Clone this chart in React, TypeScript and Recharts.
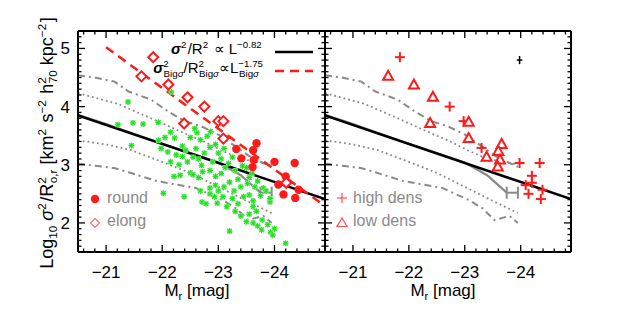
import React from 'react';
import { ComposedChart, Scatter, Line, XAxis, YAxis, ErrorBar } from 'recharts';

const FONT = '"Liberation Sans", Arial, sans-serif';
const GRAY = '#8a8a8a';
const RED = '#ff1a1a';

const X_DOMAIN: [number, number] = [-24.9, -20.5];
const Y_DOMAIN: [number, number] = [1.5, 5.3];
const X_MAJOR = [-21, -22, -23, -24];
const Y_MAJOR = [2, 3, 4, 5];

// minor ticks every 0.2 mag / 0.1 dex
const X_TICKS: number[] = [];
for (let i = 103; i <= 124; i++) X_TICKS.push(-i / 5);
const Y_TICKS: number[] = [];
for (let i = 15; i <= 53; i++) Y_TICKS.push(i / 10);

// bulk sample (green stars)
const bulk: [number, number][] = [
  [-21.21, 3.69], [-21.39, 4.08], [-21.48, 3.72], [-21.66, 3.7], [-21.93, 3.73], [-22.16, 4.25], [-21.45, 3.33],
  [-21.93, 3.42], [-22.05, 3.47], [-22.15, 3.56], [-22.22, 3.46], [-22.36, 3.32], [-22.5, 3.47], [-22.68, 3.43],
  [-22.8, 3.49], [-22.86, 3.57], [-22.62, 3.55], [-22.58, 3.62],
  [-21.98, 3.28], [-22.1, 3.22], [-22.25, 3.17], [-22.36, 3.14], [-22.45, 3.05], [-22.55, 3.13], [-22.65, 3.1],
  [-22.7, 2.99], [-22.75, 3.2], [-22.9, 3.05], [-23.0, 3.2], [-23.05, 3.1], [-23.12, 2.95], [-23.18, 3.02],
  [-22.42, 3.25], [-22.3, 3.0], [-22.15, 3.05], [-22.6, 3.28], [-22.85, 3.3], [-22.95, 3.35], [-23.1, 3.28],
  [-23.25, 3.13], [-23.43, 2.98],
  [-22.21, 2.8], [-22.32, 2.82], [-22.5, 2.86], [-22.55, 2.83], [-22.65, 2.78], [-22.72, 2.88], [-22.85, 2.9],
  [-22.95, 2.8], [-23.05, 2.85], [-23.3, 2.9], [-23.35, 2.75], [-23.2, 2.7], [-23.1, 2.62], [-22.95, 2.65],
  [-23.0, 2.55], [-22.85, 2.6], [-23.28, 2.55], [-23.4, 2.62], [-23.5, 2.95], [-23.55, 2.78], [-23.6, 2.85],
  [-23.7, 2.72], [-23.8, 2.6], [-23.75, 2.47], [-23.85, 2.55], [-23.65, 2.62], [-23.52, 2.68],
  [-22.02, 2.51], [-22.39, 2.45], [-22.68, 2.55], [-22.71, 2.36], [-22.78, 2.33], [-22.98, 2.34], [-22.93, 2.45],
  [-23.08, 2.45], [-23.15, 2.28], [-23.25, 2.42], [-23.35, 2.33], [-23.45, 2.45], [-23.55, 2.48], [-23.62, 2.38],
  [-23.62, 2.28], [-23.68, 2.2], [-23.55, 2.15], [-23.5, 2.02], [-23.62, 2.0], [-23.7, 1.95], [-23.77, 1.88],
  [-23.88, 1.97], [-23.93, 1.84], [-24.0, 1.9], [-23.97, 1.79], [-23.2, 1.86], [-24.2, 1.65], [-23.92, 2.36],
  [-23.92, 2.42], [-23.4, 2.12], [-23.78, 2.05], [-23.3, 2.2], [-22.85, 2.5],
];

// BCGs, left panel
const round: [number, number][] = [
  [-23.32, 3.27], [-23.41, 3.11], [-23.62, 3.25], [-23.68, 3.37], [-23.63, 3.08], [-23.61, 2.96], [-24.0, 3.05],
  [-24.36, 3.03], [-24.2, 2.8], [-24.07, 2.66], [-24.16, 2.49], [-24.37, 2.43], [-24.43, 2.57],
];
const elong: [number, number][] = [
  [-21.84, 4.85], [-21.63, 4.52], [-22.11, 4.38], [-22.45, 4.16], [-22.75, 4.0], [-22.39, 3.71], [-23.0, 3.75],
  [-23.09, 3.75], [-23.09, 3.45], [-24.21, 2.69],
];

// BCGs, right panel
const highDens: [number, number][] = [
  [-21.84, 4.85], [-22.73, 4.0], [-22.98, 3.75], [-23.3, 3.29], [-23.98, 3.03], [-24.34, 3.03], [-24.2, 2.81],
  [-24.09, 2.65], [-24.2, 2.69], [-24.14, 2.5], [-24.39, 2.57], [-24.36, 2.41],
];
const lowDens: [number, number][] = [
  [-21.63, 4.52], [-22.09, 4.37], [-22.43, 4.16], [-22.38, 3.71], [-23.07, 3.73], [-23.07, 3.45], [-23.66, 3.35],
  [-23.6, 3.23], [-23.39, 3.13], [-23.63, 3.08], [-23.59, 2.96],
];

// bulk distribution percentiles
const upperDashDot: [number, number][] = [
  [-20.5, 4.54], [-20.8, 4.5], [-21.15, 4.43], [-21.4, 4.26], [-21.8, 4.12], [-22.1, 3.92], [-22.4, 3.75],
  [-22.7, 3.66], [-23.0, 3.52], [-23.3, 3.32], [-23.55, 3.15], [-23.8, 3.03], [-23.95, 2.96],
];
const upperDotted: [number, number][] = [
  [-20.5, 4.23], [-21.2, 4.05], [-21.8, 3.8], [-22.4, 3.54], [-22.7, 3.42], [-23.05, 3.25], [-23.4, 3.1],
  [-23.7, 3.05], [-23.95, 3.0],
];
const median: [number, number][] = [
  [-20.5, 3.86], [-21.0, 3.7], [-21.5, 3.53], [-22.0, 3.36], [-22.5, 3.2], [-23.0, 3.04], [-23.4, 2.82],
  [-23.75, 2.52],
];
const lowerDotted: [number, number][] = [
  [-20.5, 3.42], [-21.0, 3.35], [-21.45, 3.25], [-22.0, 3.05], [-22.5, 2.86], [-23.0, 2.62], [-23.5, 2.38],
  [-23.95, 2.17],
];
const lowerDashDot: [number, number][] = [
  [-20.5, 3.02], [-21.16, 2.94], [-21.4, 2.87], [-21.9, 2.72], [-22.6, 2.6], [-23.08, 2.39], [-23.32, 2.25],
  [-23.53, 2.05], [-23.8, 2.12], [-23.95, 2.0],
];
const medianErr = [{ x: -23.85, y: 2.52, ex: 0.1 }];
const typicalErr = [{ x: -23.98, y: 4.8, ex: 0.05, ey: 0.07 }];

// fits
const fitAll: [number, number][] = [[-20.5, 3.85], [-24.9, 2.41]];
const fitBcg: [number, number][] = [[-21.0, 5.02], [-24.9, 2.29]];

const pts = (a: [number, number][]) => a.map(([x, y]) => ({ x, y }));
const isMajor = (v: number) => Math.abs(v - Math.round(v)) < 1e-6;
const fmt = (v: number) => (v < 0 ? '\u2212' + Math.abs(v) : String(v));

const StarShape = (p: any) => (
  <g>
    <rect x={p.cx - 2.5} y={p.cy - 2.5} width={5} height={5} fill="#b6f7b6" />
    <g stroke="#22dd22" strokeWidth={1.1}>
      <line x1={p.cx - 3} y1={p.cy} x2={p.cx + 3} y2={p.cy} />
      <line x1={p.cx} y1={p.cy - 3} x2={p.cx} y2={p.cy + 3} />
      <line x1={p.cx - 2.2} y1={p.cy - 2.2} x2={p.cx + 2.2} y2={p.cy + 2.2} />
      <line x1={p.cx - 2.2} y1={p.cy + 2.2} x2={p.cx + 2.2} y2={p.cy - 2.2} />
    </g>
  </g>
);
const CircleShape = (p: any) => <circle cx={p.cx} cy={p.cy} r={4.2} fill={RED} />;
const DiamondShape = (p: any) => (
  <path d={`M${p.cx},${p.cy - 5}L${p.cx + 5},${p.cy}L${p.cx},${p.cy + 5}L${p.cx - 5},${p.cy}Z`} fill="#fff" stroke={RED} strokeWidth={2} />
);
const PlusShape = (p: any) => (
  <g stroke={RED} strokeWidth={2}>
    <line x1={p.cx - 5} y1={p.cy} x2={p.cx + 5} y2={p.cy} />
    <line x1={p.cx} y1={p.cy - 5} x2={p.cx} y2={p.cy + 5} />
  </g>
);
const TriShape = (p: any) => (
  <path d={`M${p.cx},${p.cy - 5.5}L${p.cx + 5},${p.cy + 3.5}L${p.cx - 5},${p.cy + 3.5}Z`} fill="#fff" stroke={RED} strokeWidth={2} />
);
const NoShape = () => <g />;

const makeXTick = (side: 'top' | 'bottom', labels: boolean) => (p: any) => {
  const v = p.payload.value;
  const len = isMajor(v) ? 7 : 3.5;
  const dir = side === 'bottom' ? -1 : 1;
  return (
    <g>
      <line x1={p.x} x2={p.x} y1={p.y} y2={p.y + dir * len} stroke="#000" strokeWidth={1.3} />
      {labels && isMajor(v) && X_MAJOR.includes(Math.round(v)) && (
        <text x={p.x} y={p.y + 26} textAnchor="middle" fontFamily={FONT} fontSize={17} fill="#000">{fmt(v)}</text>
      )}
    </g>
  );
};
const makeYTick = (side: 'left' | 'right', labels: boolean) => (p: any) => {
  const v = p.payload.value;
  const len = isMajor(v) ? 7 : 3.5;
  const dir = side === 'left' ? 1 : -1;
  return (
    <g>
      <line x1={p.x} x2={p.x + dir * len} y1={p.y} y2={p.y} stroke="#000" strokeWidth={1.3} />
      {labels && isMajor(v) && Y_MAJOR.includes(Math.round(v)) && (
        <text x={p.x - 8} y={p.y + 6} textAnchor="end" fontFamily={FONT} fontSize={17} fill="#000">{fmt(v)}</text>
      )}
    </g>
  );
};

const axisLine = { stroke: '#000', strokeWidth: 2 };

function Panel({ left, right, labels, children }: { left: number; right: number; labels: boolean; children: React.ReactNode }) {
  // axes get 1px (top/left/right) and 30px (bottom) of room; margins place the frame
  return (
    <div style={{ position: 'absolute', left: 0, top: 0 }}>
      <ComposedChart width={629} height={315} margin={{ left: left - 1, right: right - 1, top: 30, bottom: 33 }}>
        <XAxis dataKey="x" type="number" domain={X_DOMAIN} reversed allowDataOverflow ticks={X_TICKS} interval={0}
          height={30} tickSize={0} tickMargin={0} tickLine={false} axisLine={axisLine} tick={makeXTick('bottom', true)} />
        <XAxis xAxisId="top" orientation="top" dataKey="x" type="number" domain={X_DOMAIN} reversed allowDataOverflow
          ticks={X_TICKS} interval={0} height={1} tickSize={0} tickMargin={0} tickLine={false} axisLine={axisLine}
          tick={makeXTick('top', false)} />
        <YAxis dataKey="y" type="number" domain={Y_DOMAIN} allowDataOverflow ticks={Y_TICKS} interval={0} width={1}
          tickSize={0} tickMargin={0} tickLine={false} axisLine={axisLine} tick={makeYTick('left', labels)} />
        <YAxis yAxisId="right" orientation="right" dataKey="y" type="number" domain={Y_DOMAIN} allowDataOverflow
          ticks={Y_TICKS} interval={0} width={1} tickSize={0} tickMargin={0} tickLine={false} axisLine={axisLine}
          tick={makeYTick('right', false)} />
        {children}
      </ComposedChart>
    </div>
  );
}

const grayLine = (key: string, d: [number, number][], dash?: string, w = 2) => (
  <Line key={key} data={pts(d)} dataKey="y" type="linear" stroke={GRAY} strokeWidth={w} strokeDasharray={dash}
    dot={false} activeDot={false} isAnimationActive={false} />
);

const distribution = [
  grayLine('ud', upperDashDot, '7 4 2 4'),
  grayLine('uo', upperDotted, '1.8 3', 1.8),
  grayLine('me', median, undefined, 2.2),
  grayLine('lo', lowerDotted, '1.8 3', 1.8),
  grayLine('ld', lowerDashDot, '7 4 2 4'),
];

const Sup = ({ children, dy = -7 }: { children: React.ReactNode; dy?: number }) => (
  <>
    <tspan dy={dy} fontSize="0.65em">{children}</tspan>
    <tspan dy={-dy}>{'\u200A'}</tspan>
  </>
);

export default function App() {
  return (
    <div style={{ position: 'absolute', left: 0, top: 0, width: 629, height: 315, background: '#fff' }}>
      <Panel left={78} right={304} labels>
        <Scatter data={pts(bulk)} shape={StarShape} isAnimationActive={false} />
        {distribution}
        <Scatter data={medianErr} shape={NoShape} isAnimationActive={false}>
          <ErrorBar dataKey="ex" direction="x" width={6} stroke={GRAY} strokeWidth={2} />
        </Scatter>
        <Line data={pts(fitAll)} dataKey="y" stroke="#000" strokeWidth={2.5} dot={false} activeDot={false} isAnimationActive={false} />
        <Line data={pts(fitBcg)} dataKey="y" stroke={RED} strokeWidth={2.5} strokeDasharray="9 6" dot={false} activeDot={false} isAnimationActive={false} />
        <Scatter data={pts(round)} shape={CircleShape} isAnimationActive={false} />
        <Scatter data={pts(elong)} shape={DiamondShape} isAnimationActive={false} />
      </Panel>
      <Panel left={325} right={58} labels={false}>
        {distribution}
        <Scatter data={medianErr} shape={NoShape} isAnimationActive={false}>
          <ErrorBar dataKey="ex" direction="x" width={6} stroke={GRAY} strokeWidth={2} />
        </Scatter>
        <Line data={pts(fitAll)} dataKey="y" stroke="#000" strokeWidth={2.5} dot={false} activeDot={false} isAnimationActive={false} />
        <Scatter data={pts(highDens)} shape={PlusShape} isAnimationActive={false} />
        <Scatter data={pts(lowDens)} shape={TriShape} isAnimationActive={false} />
        <Scatter data={typicalErr} shape={NoShape} isAnimationActive={false}>
          <ErrorBar dataKey="ex" direction="x" width={0} stroke="#000" strokeWidth={1.5} />
          <ErrorBar dataKey="ey" direction="y" width={0} stroke="#000" strokeWidth={1.5} />
        </Scatter>
      </Panel>
      <svg width={629} height={315} style={{ position: 'absolute', left: 0, top: 0, pointerEvents: 'none' }}>
        <g fontFamily={FONT} fill="#000">
          {/* y axis title */}
          <text x={53} y={143} transform="rotate(-90 53 143)" textAnchor="middle" fontSize={18}>
            Log<tspan dy={4} fontSize="0.65em">10</tspan><tspan dy={-4}> </tspan>
            <tspan fontStyle="italic">σ</tspan><Sup>2</Sup>/R<tspan dy={-7} fontSize="0.65em">2</tspan>
            <tspan dx={-6} dy={11} fontSize="0.65em">o,r</tspan><tspan dy={-4}>{'    '}[km</tspan>
            <Sup>2</Sup> s<Sup>−2</Sup> h<tspan dy={-7} fontSize="0.65em">2</tspan>
            <tspan dx={-6} dy={11} fontSize="0.65em">70</tspan><tspan dy={-4}> kpc</tspan><Sup>−2</Sup>]
          </text>
          {/* x axis titles */}
          <text x={197} y={296} textAnchor="middle" fontSize={17}>
            M<tspan dy={4} fontSize="0.65em">r</tspan><tspan dy={-4}>{'  '}[mag]</tspan>
          </text>
          <text x={443} y={296} textAnchor="middle" fontSize={17}>
            M<tspan dy={4} fontSize="0.65em">r</tspan><tspan dy={-4}>{'  '}[mag]</tspan>
          </text>
          {/* fit legend */}
          <text x={263} y={54} textAnchor="end" fontSize={15}>
            <tspan fontStyle="italic" fontWeight="bold">σ</tspan><Sup dy={-6}>2</Sup>/R<Sup dy={-6}>2</Sup> ∝ L<Sup dy={-6}>−0.82</Sup>
          </text>
          <line x1={275} x2={313} y1={52} y2={52} stroke="#000" strokeWidth={2.5} />
          <text x={263} y={73} textAnchor="end" fontSize={15}>
            <tspan fontStyle="italic" fontWeight="bold">σ</tspan><tspan dy={-6} fontSize="0.65em">2</tspan>
            <tspan dx={-5} dy={10} fontSize="0.65em">Big<tspan fontStyle="italic">σ</tspan></tspan>
            <tspan dy={-4}>/R</tspan><tspan dy={-6} fontSize="0.65em">2</tspan>
            <tspan dx={-5} dy={10} fontSize="0.65em">Big<tspan fontStyle="italic">σ</tspan></tspan>
            <tspan dy={-4}>∝L</tspan><tspan dy={-6} fontSize="0.65em">−1.75</tspan>
            <tspan dx={-24} dy={10} fontSize="0.65em">Big<tspan fontStyle="italic">σ</tspan></tspan>
          </text>
          <line x1={275} x2={313} y1={71} y2={71} stroke={RED} strokeWidth={2.5} strokeDasharray="9 6" />
        </g>
        {/* symbol legends */}
        <g fontFamily={FONT} fontSize={16} fill="#8a8a8a">
          <circle cx={95} cy={199} r={4.2} fill={RED} />
          <text x={107} y={203}>round</text>
          <path d="M95,218.5L99.5,223L95,227.5L90.5,223Z" fill="#fff" stroke="#ff7070" strokeWidth={1.2} />
          <text x={107} y={226}>elong</text>
          <g stroke="#ff5050" strokeWidth={1.2}>
            <line x1={337} x2={347} y1={198} y2={198} />
            <line x1={342} x2={342} y1={193} y2={203} />
          </g>
          <text x={353} y={203}>high dens</text>
          <path d="M342,218L347,226.5L337,226.5Z" fill="#fff" stroke="#ff5050" strokeWidth={1.2} />
          <text x={353} y={226}>low dens</text>
        </g>
      </svg>
    </div>
  );
}
